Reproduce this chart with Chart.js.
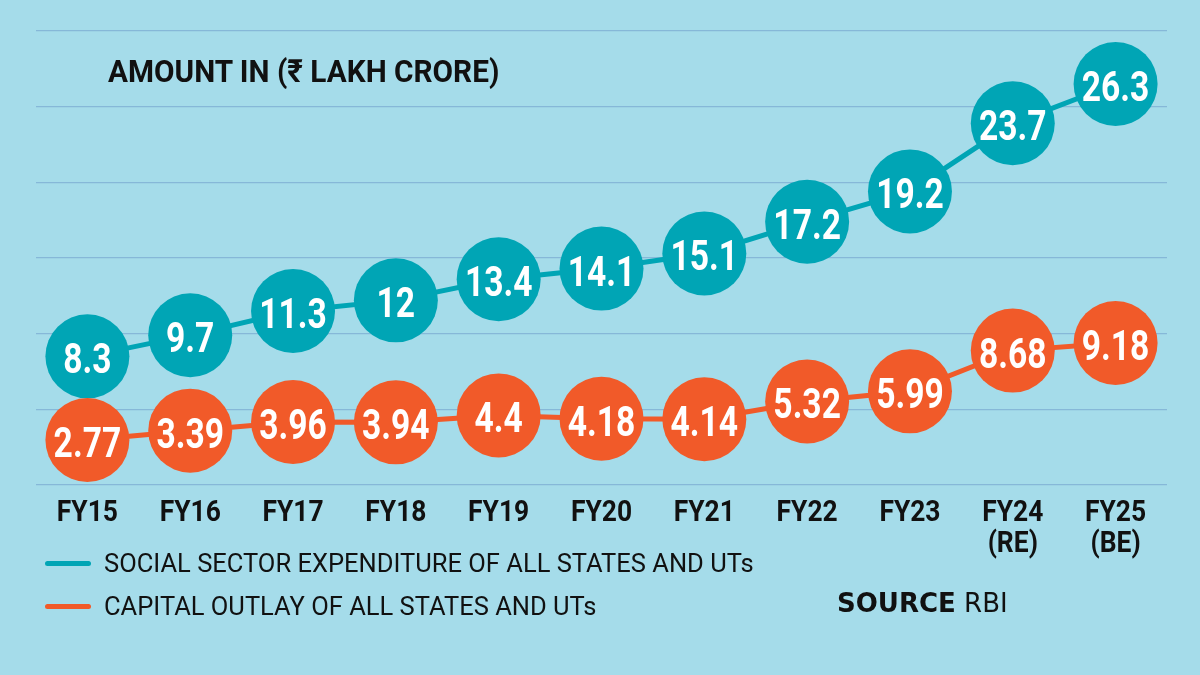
<!DOCTYPE html>
<html>
<head>
<meta charset="utf-8">
<script src="https://cdn.jsdelivr.net/npm/chart.js@4"></script>
<style>
  html, body { margin: 0; padding: 0; }
  body { width: 1200px; height: 675px; background: #a5dcea; position: relative; overflow: hidden; font-family: Roboto, 'DejaVu Sans', sans-serif; color: #111; }
  #wrap { position: absolute; left: 0; top: 0; width: 1200px; height: 675px; }
  .txt { position: absolute; white-space: nowrap; line-height: 1; transform-origin: left top; }
  #title { left: 108px; top: 55px; font-size: 32px; font-weight: 700; transform: scaleX(0.93); }
  .key { position: absolute; left: 45px; width: 46px; height: 5px; border-radius: 3px; }
  .legtxt { left: 104px; font-size: 25.5px; }
  #source { left: 837px; top: 590px; font-family: 'DejaVu Sans', sans-serif; font-size: 26px; }
</style>
</head>
<body>
<div id="wrap"><canvas id="chart" width="1200" height="675"></canvas></div>
<div class="txt" id="title">AMOUNT IN (₹ LAKH CRORE)</div>
<div class="key" style="top:561px;background:#00a5b5"></div>
<div class="txt legtxt" style="top:551px">SOCIAL SECTOR EXPENDITURE OF ALL STATES AND UTs</div>
<div class="key" style="top:604px;background:#f15a29"></div>
<div class="txt legtxt" style="top:594px">CAPITAL OUTLAY OF ALL STATES AND UTs</div>
<div class="txt" id="source"><b>SOURCE</b> RBI</div>
<script>
const categories = [['FY15'], ['FY16'], ['FY17'], ['FY18'], ['FY19'], ['FY20'], ['FY21'], ['FY22'], ['FY23'], ['FY24', '(RE)'], ['FY25', '(BE)']];
const socialSpend = [8.3, 9.7, 11.3, 12, 13.4, 14.1, 15.1, 17.2, 19.2, 23.7, 26.3];
const capitalOutlay = [2.77, 3.39, 3.96, 3.94, 4.4, 4.18, 4.14, 5.32, 5.99, 8.68, 9.18];
const yMin = -0.2;
const yMax = 29.8;
const yStep = 5;

const TEAL = '#00a5b5';
const ORANGE = '#f15a29';

// white value inside each circle, drawn per dataset so overlaps stack right
const pointLabels = {
  id: 'pointLabels',
  afterDatasetDraw(chart, args) {
    const ctx = chart.ctx;
    const ds = chart.data.datasets[args.index];
    ctx.save();
    ctx.font = '700 42px Roboto';
    ctx.fillStyle = '#fff';
    ctx.textAlign = 'center';
    ctx.textBaseline = 'alphabetic';
    args.meta.data.forEach((pt, i) => {
      ctx.save();
      ctx.translate(pt.x, pt.y + 17);
      ctx.scale(0.8, 1);
      ctx.fillText(String(ds.data[i]), 0, 0);
      ctx.restore();
    });
    ctx.restore();
  }
};

// category labels under the plot, a bit condensed
const xLabels = {
  id: 'xLabels',
  afterDraw(chart) {
    const ctx = chart.ctx;
    const x = chart.scales.x;
    const base = chart.chartArea.bottom + 36;
    ctx.save();
    ctx.font = '700 30px Roboto';
    ctx.fillStyle = '#111';
    ctx.textAlign = 'center';
    categories.forEach((lab, i) => {
      const px = x.getPixelForValue(i);
      lab.forEach((line, j) => {
        ctx.save();
        ctx.translate(px, base + j * 31);
        ctx.scale(0.88, 1);
        ctx.fillText(line, 0, 0);
        ctx.restore();
      });
    });
    ctx.restore();
  }
};

new Chart(document.getElementById('chart'), {
  type: 'line',
  data: {
    labels: categories,
    datasets: [
      {
        label: 'SOCIAL SECTOR EXPENDITURE OF ALL STATES AND UTs',
        data: socialSpend,
        borderColor: TEAL,
        backgroundColor: TEAL,
        borderWidth: 5,
        pointRadius: 42,
        pointBorderWidth: 0,
        pointBackgroundColor: TEAL,
        tension: 0,
        clip: false,
        order: 1,
      },
      {
        label: 'CAPITAL OUTLAY OF ALL STATES AND UTs',
        data: capitalOutlay,
        borderColor: ORANGE,
        backgroundColor: ORANGE,
        borderWidth: 5,
        pointRadius: 42,
        pointBorderWidth: 0,
        pointBackgroundColor: ORANGE,
        tension: 0,
        clip: false,
        order: 0,
      },
    ],
  },
  options: {
    responsive: false,
    animation: false,
    layout: { autoPadding: false, padding: { left: 36, right: 33, top: 31, bottom: 190 } },
    plugins: {
      legend: { display: false },
      tooltip: { enabled: false },
    },
    scales: {
      x: {
        offset: true,
        grid: { display: false },
        border: { display: false },
        ticks: { display: false },
        afterFit: (s) => { s.height = 0; },
      },
      y: {
        min: yMin,
        max: yMax,
        grid: { color: '#86b8d8', lineWidth: 1.3, drawTicks: false },
        border: { display: false },
        ticks: { display: false },
        afterBuildTicks: (s) => {
          const t = [];
          for (let v = yMin; v <= yMax + 0.001; v += yStep) t.push({ value: v });
          s.ticks = t;
        },
        afterFit: (s) => { s.width = 0; },
      },
    },
  },
  plugins: [pointLabels, xLabels],
});
</script>
</body>
</html>
